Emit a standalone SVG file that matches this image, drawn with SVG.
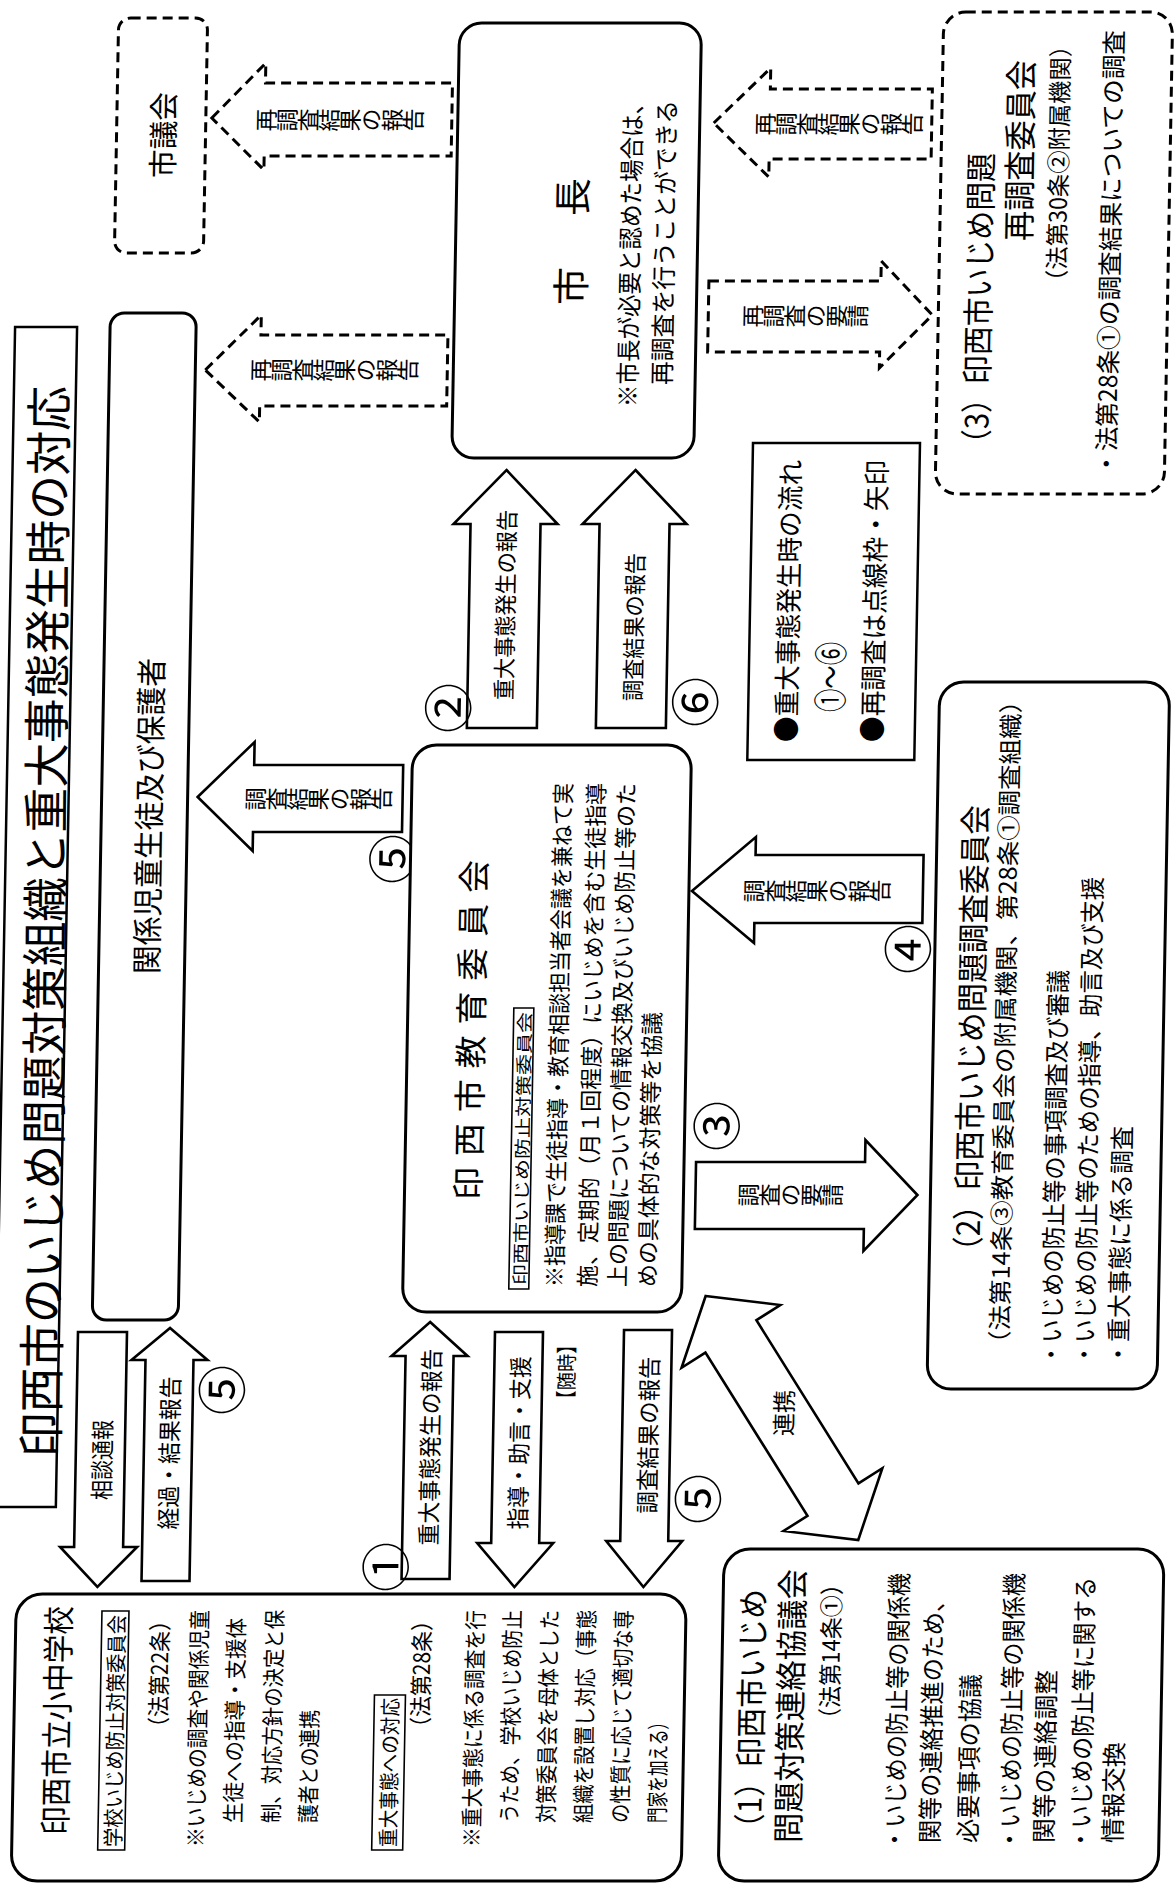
<svg xmlns="http://www.w3.org/2000/svg" width="1176" height="1886" viewBox="0 0 1176 1886">
<style>
text { font-family: "Noto Sans CJK JP", "Noto Sans CJK SC", sans-serif; fill: #000; dominant-baseline: central; }
.box { fill: #fff; stroke: #000; stroke-width: 3; }
.lbl { fill: none; stroke: #000; stroke-width: 1.6; }
.dbox { fill: #fff; stroke: #000; stroke-width: 3; stroke-dasharray: 10 6; }
.arr { fill: #fff; stroke: #000; stroke-width: 2.6; stroke-linejoin: miter; }
.darr { fill: #fff; stroke: #000; stroke-width: 3; stroke-dasharray: 10 6; }
.v { writing-mode: vertical-rl; text-anchor: middle; font-size: 23px; letter-spacing: -2px; }
.m { text-anchor: middle; }
.e { text-anchor: end; }
.n { text-anchor: middle; font-size: 50px; }
</style>
<rect width="1176" height="1886" fill="#fff"/>
<g transform="matrix(1 0 -0.018 1 16.97 0)">

<g id="connectors">
  <polygon class="darr" points="197,118 250,63 250,83 437,83 437,156 250,156 250,170"/>
  <text class="v" transform="rotate(-90)" x="-120" y="324">再調査結果の報告</text>
  <polygon class="darr" points="195,370 250,315 250,335 437,335 437,406 250,406 250,422"/>
  <text class="v" transform="rotate(-90)" x="-370" y="323">再調査結果の報告</text>
  <polygon class="darr" points="699,123 755,68 755,89 917,89 917,159 755,159 755,177"/>
  <text class="v" transform="rotate(-90)" x="-124" y="823">再調査結果の報告</text>
  <polygon class="darr" points="697,281 869,281 869,261 921,315 869,368 869,352 697,352"/>
  <text class="v" transform="rotate(-90)" x="-316" y="793">再調査の要請</text>

  <polygon class="arr" points="498,470 550,524 533,524 533,728 463,728 463,524 446,524"/>
  <text class="m" transform="rotate(-90)" x="-605" y="498" font-size="23" textLength="190" lengthAdjust="spacingAndGlyphs">重大事態発生の報告</text>
  <text class="n" transform="rotate(-90)" x="-708" y="441">②</text>
  <polygon class="arr" points="627,470 679,524 662,524 662,728 592,728 592,524 575,524"/>
  <text class="m" transform="rotate(-90)" x="-627" y="627" font-size="23" textLength="148" lengthAdjust="spacingAndGlyphs">調査結果の報告</text>
  <text class="n" transform="rotate(-90)" x="-702" y="688">⑥</text>

  <polygon class="arr" points="195,797 251,742 251,765 400,765 400,832 251,832 251,851"/>
  <text class="v" transform="rotate(-90)" x="-799" y="315">調査結果の報告</text>
  <text class="n" transform="rotate(-90)" x="-859" y="388">⑤</text>

  <polygon class="arr" points="691,891 754,837 754,855 922,855 922,923 754,923 754,943"/>
  <text class="v" transform="rotate(-90)" x="-891" y="815">調査結果の報告</text>
  <text class="n" transform="rotate(-90)" x="-949" y="905">④</text>

  <polygon class="arr" points="700,1162 869,1162 869,1140 922,1195 869,1251 869,1229 700,1229"/>
  <text class="v" transform="rotate(-90)" x="-1195" y="794">調査の要請</text>
  <text class="n" transform="rotate(-90)" x="-1126" y="717">③</text>

  <polygon class="arr" points="85,1332 134,1332 134,1547 148,1547 109,1587 71,1547 85,1547"/>
  <text class="m" transform="rotate(-90)" x="-1460" y="110" font-size="24" textLength="80" lengthAdjust="spacingAndGlyphs">相談通報</text>
  <polygon class="arr" points="177,1328 215,1360 201,1360 201,1581 153,1581 153,1360 139,1360"/>
  <text class="m" transform="rotate(-90)" x="-1453" y="177" font-size="24" textLength="153" lengthAdjust="spacingAndGlyphs">経過・結果報告</text>
  <text class="n" transform="rotate(-90)" x="-1390" y="227">⑤</text>

  <polygon class="arr" points="437,1322 475,1356 461,1356 461,1579 413,1579 413,1356 399,1356"/>
  <text class="m" transform="rotate(-90)" x="-1447" y="438" font-size="23.5" textLength="197" lengthAdjust="spacingAndGlyphs">重大事態発生の報告</text>
  <text class="n" transform="rotate(-90)" x="-1567" y="394">①</text>

  <polygon class="arr" points="502,1332 550,1332 550,1543 564,1543 526,1587 488,1543 502,1543"/>
  <text class="m" transform="rotate(-90)" x="-1443" y="527" font-size="23.5" textLength="173" lengthAdjust="spacingAndGlyphs">指導・助言・支援</text>
  <text class="m" transform="rotate(-90)" x="-1372" y="573" font-size="21" textLength="73" lengthAdjust="spacingAndGlyphs">【随時】</text>

  <polygon class="arr" points="631,1330 679,1330 679,1541 693,1541 655,1587 617,1541 631,1541"/>
  <text class="m" transform="rotate(-90)" x="-1435" y="656" font-size="23.5" textLength="157" lengthAdjust="spacingAndGlyphs">調査結果の報告</text>
  <text class="n" transform="rotate(-90)" x="-1499" y="705">⑤</text>

  <polygon class="arr" points="712,1296 786.8,1305 763.2,1320.2 868.2,1483.4 891.8,1468.2 869,1540 794.2,1531 817.8,1515.8 712.8,1352.6 689.2,1367.8"/>
  <text class="m" transform="rotate(-90)" x="-1413" y="791" font-size="24" textLength="46" lengthAdjust="spacingAndGlyphs">連携</text>
</g>

<g id="title-frame">
  <rect x="4" y="327" width="62" height="1180" fill="#fff" stroke="#000" stroke-width="2.5"/>
</g>

<g id="city-council">
  <rect class="dbox" x="102" y="18" width="89" height="235" rx="12"/>
  <text class="m" transform="rotate(-90)" x="-135" y="147" font-size="30" textLength="86" lengthAdjust="spacingAndGlyphs">市議会</text>
</g>

<g id="mayor">
  <rect class="box" x="443" y="23" width="242" height="435" rx="22"/>
  <text transform="rotate(-90)" x="-305" y="557" font-size="38" letter-spacing="51">市長</text>
  <text transform="rotate(-90)" x="-407" y="616" font-size="25" textLength="315" lengthAdjust="spacingAndGlyphs">※市長が必要と認めた場合は、</text>
  <text transform="rotate(-90)" x="-385" y="650" font-size="25" textLength="285" lengthAdjust="spacingAndGlyphs">再調査を行うことができる</text>
</g>

<g id="reinvestigation-committee">
  <rect class="dbox" x="927" y="12" width="229" height="482" rx="22"/>
  <text transform="rotate(-90)" x="-458" y="965" font-size="32" textLength="305" lengthAdjust="spacingAndGlyphs">（3）印西市いじめ問題</text>
  <text transform="rotate(-90)" x="-241" y="1004" font-size="33" textLength="181" lengthAdjust="spacingAndGlyphs">再調査委員会</text>
  <text transform="rotate(-90)" x="-293" y="1043" font-size="24" textLength="259" lengthAdjust="spacingAndGlyphs">（法第30条②附属機関）</text>
  <text transform="rotate(-90)" x="-476" y="1096" font-size="25" textLength="446" lengthAdjust="spacingAndGlyphs">・法第28条①の調査結果についての調査</text>
</g>

<g id="legend">
  <rect x="744" y="443" width="167" height="317" fill="#fff" stroke="#000" stroke-width="2.5"/>
  <text transform="rotate(-90)" x="-742" y="781" font-size="27" textLength="282" lengthAdjust="spacingAndGlyphs">●重大事態発生時の流れ</text>
  <text class="m" transform="rotate(-90)" x="-677" y="824" font-size="34" textLength="70" lengthAdjust="spacingAndGlyphs">①～⑥</text>
  <text transform="rotate(-90)" x="-742" y="867" font-size="27" textLength="282" lengthAdjust="spacingAndGlyphs">●再調査は点線枠・矢印</text>
</g>

<g id="children-parents">
  <rect class="box" x="99" y="313" width="86" height="1007" rx="14"/>
  <text transform="rotate(-90)" x="-974" y="145" font-size="31" textLength="316" lengthAdjust="spacingAndGlyphs">関係児童生徒及び保護者</text>
</g>

<g id="board-of-education">
  <rect class="box" x="409" y="745" width="279" height="567" rx="24"/>
  <text transform="rotate(-90)" x="-1200" y="471" font-size="33" textLength="340">印西市教育委員会</text>
  <rect class="lbl" x="515" y="1008" width="20" height="281"/>
  <text transform="rotate(-90)" x="-1285" y="525" font-size="17" textLength="273" lengthAdjust="spacingAndGlyphs">印西市いじめ防止対策委員会</text>
  <text transform="rotate(-90)" x="-1287" y="559" font-size="23" textLength="504" lengthAdjust="spacingAndGlyphs">※指導課で生徒指導・教育相談担当者会議を兼ねて実</text>
  <text transform="rotate(-90)" x="-1287" y="592" font-size="23" textLength="504" lengthAdjust="spacingAndGlyphs">施、定期的（月１回程度）にいじめを含む生徒指導</text>
  <text transform="rotate(-90)" x="-1287" y="622" font-size="23" textLength="504" lengthAdjust="spacingAndGlyphs">上の問題についての情報交換及びいじめ防止等のた</text>
  <text transform="rotate(-90)" x="-1287" y="652" font-size="23" textLength="275" lengthAdjust="spacingAndGlyphs">めの具体的な対策等を協議</text>
</g>

<g id="investigation-committee">
  <rect class="box" x="935" y="682" width="230" height="707" rx="24"/>
  <text transform="rotate(-90)" x="-1266" y="971" font-size="32" textLength="461" lengthAdjust="spacingAndGlyphs">（2）印西市いじめ問題調査委員会</text>
  <text transform="rotate(-90)" x="-1356" y="1005" font-size="24" textLength="668" lengthAdjust="spacingAndGlyphs">（法第14条③教育委員会の附属機関、第28条①調査組織）</text>
  <text transform="rotate(-90)" x="-1366" y="1057" font-size="25" textLength="396" lengthAdjust="spacingAndGlyphs">・いじめの防止等の事項調査及び審議</text>
  <text transform="rotate(-90)" x="-1366" y="1090" font-size="25" textLength="489" lengthAdjust="spacingAndGlyphs">・いじめの防止等のための指導、助言及び支援</text>
  <text transform="rotate(-90)" x="-1366" y="1124" font-size="25" textLength="240" lengthAdjust="spacingAndGlyphs">・重大事態に係る調査</text>
</g>

<g id="schools">
  <rect class="box" x="28" y="1594" width="670" height="287" rx="26"/>
  <text transform="rotate(-90)" x="-1835" y="69" font-size="32" textLength="229" lengthAdjust="spacingAndGlyphs">印西市立小中学校</text>
  <rect class="lbl" x="114" y="1611" width="27" height="239"/>
  <text transform="rotate(-90)" x="-1847" y="128" font-size="21" textLength="232" lengthAdjust="spacingAndGlyphs">学校いじめ防止対策委員会</text>
  <text class="e" transform="rotate(-90)" x="-1610" y="171" font-size="23" textLength="128" lengthAdjust="spacingAndGlyphs">（法第22条）</text>
  <text transform="rotate(-90)" x="-1847" y="210" font-size="22.5" textLength="237" lengthAdjust="spacingAndGlyphs">※いじめの調査や関係児童</text>
  <text transform="rotate(-90)" x="-1823" y="247" font-size="22.5" textLength="205" lengthAdjust="spacingAndGlyphs">生徒への指導・支援体</text>
  <text transform="rotate(-90)" x="-1823" y="285" font-size="22.5" textLength="213" lengthAdjust="spacingAndGlyphs">制、対応方針の決定と保</text>
  <text transform="rotate(-90)" x="-1823" y="322" font-size="22.5" textLength="113" lengthAdjust="spacingAndGlyphs">護者との連携</text>
  <rect class="lbl" x="388" y="1695" width="31" height="155"/>
  <text transform="rotate(-90)" x="-1847" y="403" font-size="21" textLength="149" lengthAdjust="spacingAndGlyphs">重大事態への対応</text>
  <text class="e" transform="rotate(-90)" x="-1610" y="433" font-size="23" textLength="128" lengthAdjust="spacingAndGlyphs">（法第28条）</text>
  <text transform="rotate(-90)" x="-1847" y="486" font-size="22.5" textLength="237" lengthAdjust="spacingAndGlyphs">※重大事態に係る調査を行</text>
  <text transform="rotate(-90)" x="-1823" y="523" font-size="22.5" textLength="213" lengthAdjust="spacingAndGlyphs">うため、学校いじめ防止</text>
  <text transform="rotate(-90)" x="-1823" y="560" font-size="22.5" textLength="213" lengthAdjust="spacingAndGlyphs">対策委員会を母体とした</text>
  <text transform="rotate(-90)" x="-1823" y="597" font-size="22.5" textLength="213" lengthAdjust="spacingAndGlyphs">組織を設置し対応（事態</text>
  <text transform="rotate(-90)" x="-1823" y="634" font-size="22.5" textLength="213" lengthAdjust="spacingAndGlyphs">の性質に応じて適切な専</text>
  <text transform="rotate(-90)" x="-1823" y="671" font-size="22.5" textLength="109" lengthAdjust="spacingAndGlyphs">門家を加える）</text>
</g>

<g id="liaison-council">
  <rect class="box" x="735" y="1549" width="440" height="332" rx="26"/>
  <text transform="rotate(-90)" x="-1843" y="763" font-size="32" textLength="254" lengthAdjust="spacingAndGlyphs">（1）印西市いじめ</text>
  <text transform="rotate(-90)" x="-1843" y="802" font-size="32" textLength="274" lengthAdjust="spacingAndGlyphs">問題対策連絡協議会</text>
  <text transform="rotate(-90)" x="-1730" y="842" font-size="24" textLength="157" lengthAdjust="spacingAndGlyphs">（法第14条①）</text>
  <text transform="rotate(-90)" x="-1851" y="909" font-size="25" textLength="278" lengthAdjust="spacingAndGlyphs">・いじめの防止等の関係機</text>
  <text transform="rotate(-90)" x="-1843" y="944" font-size="25" textLength="254" lengthAdjust="spacingAndGlyphs">関等の連絡推進のため、</text>
  <text transform="rotate(-90)" x="-1843" y="982" font-size="25" textLength="169" lengthAdjust="spacingAndGlyphs">必要事項の協議</text>
  <text transform="rotate(-90)" x="-1851" y="1024" font-size="25" textLength="278" lengthAdjust="spacingAndGlyphs">・いじめの防止等の関係機</text>
  <text transform="rotate(-90)" x="-1843" y="1058" font-size="25" textLength="173" lengthAdjust="spacingAndGlyphs">関等の連絡調整</text>
  <text transform="rotate(-90)" x="-1851" y="1095" font-size="25" textLength="274" lengthAdjust="spacingAndGlyphs">・いじめの防止等に関する</text>
  <text transform="rotate(-90)" x="-1843" y="1127" font-size="25" textLength="101" lengthAdjust="spacingAndGlyphs">情報交換</text>
</g>

</g>

<g id="title">
  <text transform="translate(38,1457) rotate(-89.55)" x="0" y="0" font-size="47" textLength="1071" lengthAdjust="spacingAndGlyphs">印西市のいじめ問題対策組織と重大事態発生時の対応</text>
</g>
</svg>
